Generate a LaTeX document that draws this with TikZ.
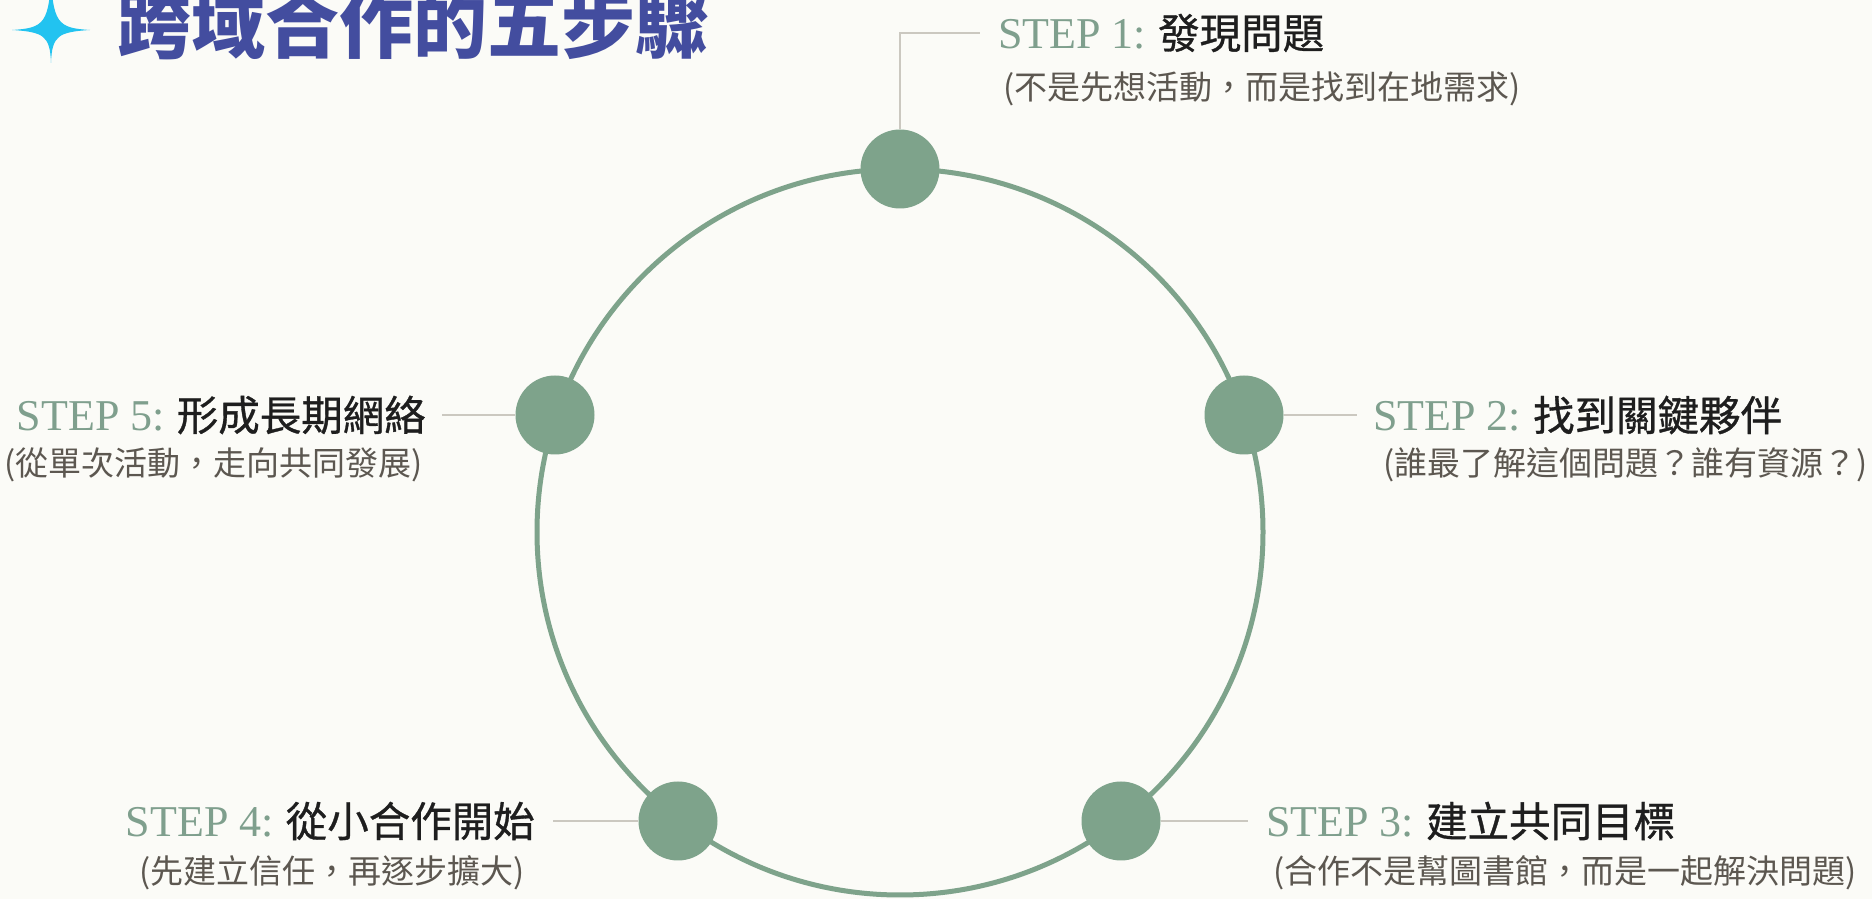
\documentclass[tikz,border=0pt]{standalone}
\usepackage{fontspec}
\setmainfont{Liberation Serif}
\newfontfamily\cjkfont{Noto Sans CJK TC}
\newfontfamily\cjkhead{Noto Sans CJK TC}[FakeBold=0.8]
\definecolor{paper}{HTML}{FBFBF7}
\definecolor{ringgreen}{HTML}{7EA38B}
\definecolor{linkgrey}{HTML}{CBC8C0}
\definecolor{steplabel}{HTML}{7F9F8D}
\definecolor{headink}{HTML}{1E1E1E}
\definecolor{noteink}{HTML}{5C5750}
\definecolor{titleblue}{HTML}{434D9F}
\definecolor{starblue}{HTML}{22C3F0}

\begin{document}
\begin{tikzpicture}[x=1pt, y=1pt,
  stepdot/.style={circle, fill=ringgreen, minimum size=79pt, inner sep=0pt},
  link/.style={draw=linkgrey, line width=2.2pt},
  stephead/.style={inner sep=0pt, text=headink, font=\fontsize{44}{48}\selectfont},
  stepnote/.style={inner sep=0pt, text=noteink, font=\cjkfont\fontsize{33}{36}\selectfont}]
\useasboundingbox (0,0) rectangle (1872,899);
\fill[paper] (0,0) rectangle (1872,899);

% title with star
\fill[starblue] (12,869) .. controls (44,871) and (50,875) .. (51,930)
  .. controls (52,875) and (58,871) .. (90,869)
  .. controls (58,867) and (52,863) .. (51,836)
  .. controls (50,863) and (44,867) .. cycle;
\node[anchor=base west, inner sep=0pt, text=titleblue, font=\cjkfont\bfseries\fontsize{74}{80}\selectfont] (title) at (117,846) {跨域合作的五步驟};

% ring and steps
\draw[ringgreen, line width=5pt] (900,367) circle (363);
\node[stepdot] (s1) at (900,730) {};
\node[stepdot] (s2) at (1244,484) {};
\node[stepdot] (s3) at (1121,78) {};
\node[stepdot] (s4) at (678,78) {};
\node[stepdot] (s5) at (555,484) {};

\node[stephead, anchor=west] (h1) at (998,866) {\textcolor{steplabel}{STEP 1:}\hspace{12pt}{\cjkhead\fontsize{41.5}{46}\selectfont 發現問題}};
\node[stephead, anchor=west] (h2) at (1373,484) {\textcolor{steplabel}{STEP 2:}\hspace{12pt}{\cjkhead\fontsize{41.5}{46}\selectfont 找到關鍵夥伴}};
\node[stephead, anchor=west] (h3) at (1266,78) {\textcolor{steplabel}{STEP 3:}\hspace{12pt}{\cjkhead\fontsize{41.5}{46}\selectfont 建立共同目標}};
\node[stephead, anchor=east] (h4) at (535,78) {\textcolor{steplabel}{STEP 4:}\hspace{12pt}{\cjkhead\fontsize{41.5}{46}\selectfont 從小合作開始}};
\node[stephead, anchor=east] (h5) at (426,484) {\textcolor{steplabel}{STEP 5:}\hspace{12pt}{\cjkhead\fontsize{41.5}{46}\selectfont 形成長期網絡}};

\node[stepnote, anchor=west] (n1) at (1003,810) {(不是先想活動，而是找到在地需求)};
\node[stepnote, anchor=west] (n2) at (1383,434) {(誰最了解這個問題？誰有資源？)};
\node[stepnote, anchor=west] (n3) at (1273,26) {(合作不是幫圖書館，而是一起解決問題)};
\node[stepnote, anchor=east] (n4) at (525,26) {(先建立信任，再逐步擴大)};
\node[stepnote, anchor=east] (n5) at (423,434) {(從單次活動，走向共同發展)};

\draw[link] (s1.north) |- ([xshift=-18pt]h1.west);
\draw[link] (s2.east) -- ([xshift=-16pt]h2.west);
\draw[link] (s3.east) -- ([xshift=-18pt]h3.west);
\draw[link] (s4.west) -- ([xshift=18pt]h4.east);
\draw[link] (s5.west) -- ([xshift=16pt]h5.east);
\end{tikzpicture}
\end{document}
